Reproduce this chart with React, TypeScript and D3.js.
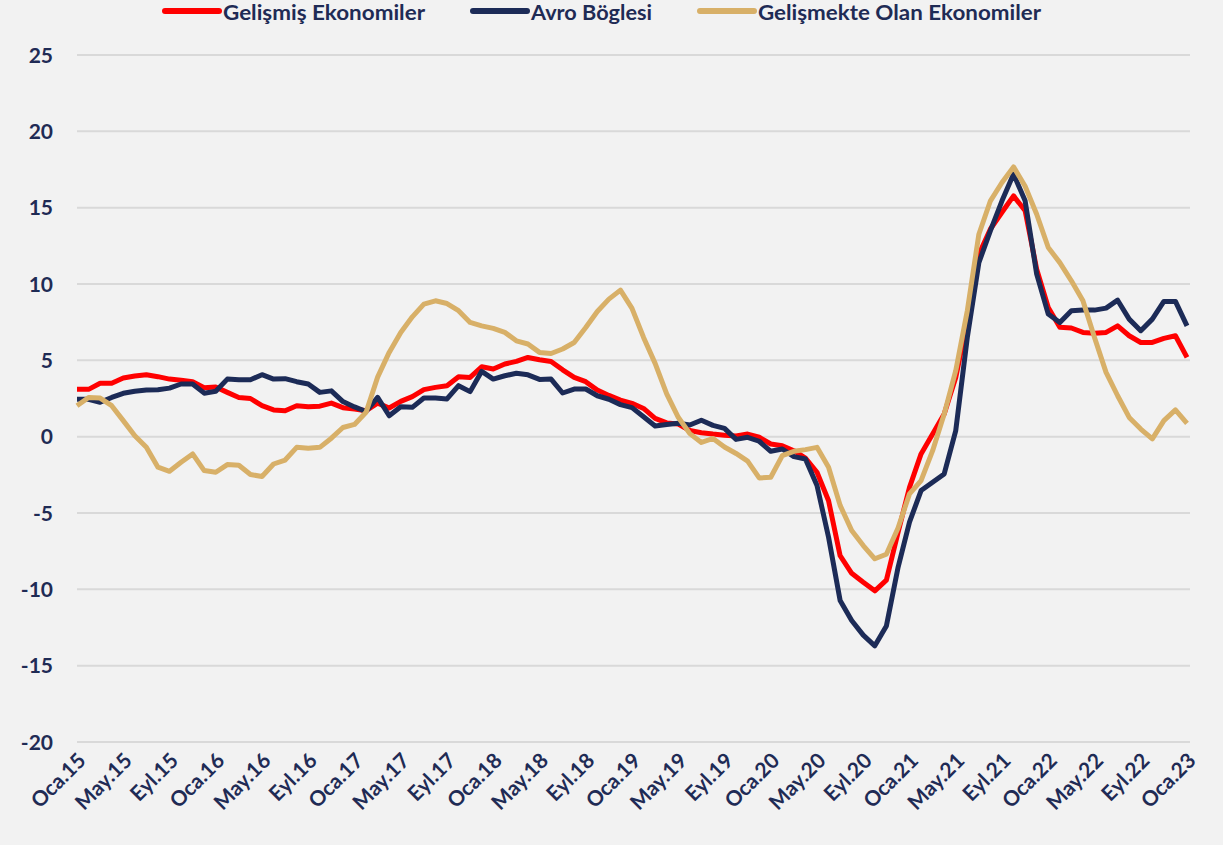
import React from "react";
import * as d3 from "d3";

// aylık seriler, Oca.15 - Oca.23 (97 ay)
const gelismis = [
  3.1, 3.1, 3.5, 3.5, 3.84, 3.97, 4.06, 3.93, 3.77, 3.7, 3.6, 3.2, 3.25, 2.9, 2.57, 2.5,
  2.03, 1.75, 1.7, 2.03, 1.96, 2.0, 2.2, 1.9, 1.81, 1.7, 2.2, 1.88, 2.31, 2.62, 3.08, 3.23,
  3.34, 3.93, 3.88, 4.58, 4.43, 4.76, 4.93, 5.19, 5.04, 4.93, 4.38, 3.88, 3.6, 3.05, 2.7, 2.4,
  2.18, 1.85, 1.2, 0.9, 0.83, 0.4, 0.26, 0.17, 0.1, 0.05, 0.17, -0.04, -0.48, -0.59, -0.92, -1.4,
  -2.33, -4.2, -7.8, -8.95, -9.54, -10.1, -9.4, -6.3, -3.32, -1.13, 0.17, 1.48, 3.88, 7.59, 11.95, 13.6,
  14.7, 15.77, 14.8, 10.97, 8.46, 7.16, 7.12, 6.83, 6.77, 6.83, 7.26, 6.61, 6.17, 6.17, 6.44, 6.61,
  5.19,
];

const avroBolgesi = [
  2.45, 2.45, 2.25, 2.57, 2.84, 2.97, 3.05, 3.07, 3.18, 3.45, 3.45, 2.85, 2.97, 3.77, 3.73, 3.73,
  4.06, 3.77, 3.8, 3.6, 3.45, 2.9, 3.0, 2.3, 1.95, 1.65, 2.57, 1.37, 1.96, 1.92, 2.53, 2.53,
  2.47, 3.34, 2.95, 4.28, 3.77, 3.99, 4.15, 4.05, 3.75, 3.77, 2.86, 3.12, 3.12, 2.68, 2.45, 2.1,
  1.9, 1.3, 0.7, 0.8, 0.88, 0.76, 1.08, 0.74, 0.54, -0.18, -0.04, -0.3, -0.96, -0.81, -1.31, -1.46,
  -3.2, -6.59, -10.73, -12.04, -13.0, -13.7, -12.4, -8.6, -5.6, -3.53, -2.99, -2.44, 0.4, 6.5, 11.4, 13.5,
  15.45, 17.2, 15.45, 10.65, 8.03, 7.48, 8.25, 8.29, 8.29, 8.42, 8.94, 7.7, 6.94, 7.7, 8.86, 8.86,
  7.26,
];

const gelismekte = [
  2.03, 2.57, 2.53, 2.03, 1.05, 0.06, -0.7, -2.0, -2.27, -1.68, -1.13, -2.22, -2.33, -1.83, -1.87, -2.48,
  -2.61, -1.79, -1.53, -0.7, -0.76, -0.7, -0.1, 0.6, 0.8, 1.6, 3.9, 5.52, 6.83, 7.85, 8.68, 8.9,
  8.72, 8.25, 7.48, 7.26, 7.09, 6.83, 6.28, 6.07, 5.52, 5.45, 5.74, 6.17, 7.15, 8.2, 9.01, 9.6,
  8.4, 6.5, 4.8, 2.8, 1.27, 0.2, -0.38, -0.12, -0.68, -1.1, -1.6, -2.7, -2.66, -1.24, -0.96, -0.85,
  -0.7, -2.0, -4.5, -6.15, -7.13, -8.0, -7.7, -6.0, -3.75, -2.88, -0.92, 1.48, 4.32, 8.25, 13.26, 15.45,
  16.65, 17.67, 16.4, 14.57, 12.39, 11.4, 10.21, 8.9, 6.5, 4.21, 2.68, 1.26, 0.5, -0.15, 1.05, 1.75,
  0.87,
];

const tickLabels = [
  "Oca.15", "May.15", "Eyl.15", "Oca.16", "May.16", "Eyl.16", "Oca.17", "May.17", "Eyl.17",
  "Oca.18", "May.18", "Eyl.18", "Oca.19", "May.19", "Eyl.19", "Oca.20", "May.20", "Eyl.20",
  "Oca.21", "May.21", "Eyl.21", "Oca.22", "May.22", "Eyl.22", "Oca.23",
];

const yTicks = [25, 20, 15, 10, 5, 0, -5, -10, -15, -20];

const seriesNames = ["Gelişmiş Ekonomiler", "Avro Böglesi", "Gelişmekte Olan Ekonomiler"];

const textColor = "#1f2b55";
const font = "Lato, 'Open Sans', sans-serif";

export default function App() {
  const width = 1223;
  const height = 845;

  const x = d3.scaleLinear().domain([0, gelismis.length - 1]).range([77, 1187]);
  const y = d3.scaleLinear().domain([-20, 25]).range([742, 55]);

  const line = d3
    .line<number>()
    .x((_, i) => x(i))
    .y((d) => y(d));

  const series = [
    { name: seriesNames[0], values: gelismis, color: "#ff0000" },
    { name: seriesNames[1], values: avroBolgesi, color: "#1c2b57" },
    { name: seriesNames[2], values: gelismekte, color: "#d8b068" },
  ];

  // legend: line start and text width of each entry
  const legendX = [165, 473, 700];
  const legendW = [202, 121, 283];

  return (
    <div style={{ position: "absolute", left: 0, top: 0 }}>
      <svg width={width} height={height} style={{ display: "block", background: "#f2f2f2" }}>
        {yTicks.map((t) => (
          <g key={t}>
            <line x1={77} x2={1190} y1={y(t)} y2={y(t)} stroke="#d9d9d9" strokeWidth={2} />
            <text
              x={53}
              y={y(t)}
              dy="0.36em"
              textAnchor="end"
              fill={textColor}
              style={{ fontFamily: font, fontWeight: 700, fontSize: 21 }}
            >
              {t}
            </text>
          </g>
        ))}

        {tickLabels.map((label, k) => (
          <text
            key={label}
            transform={`translate(${x(k * 4) + 10},${762}) rotate(-45)`}
            textAnchor="end"
            fill={textColor}
            style={{ fontFamily: font, fontWeight: 700, fontSize: 21 }}
          >
            {label}
          </text>
        ))}

        {series.map((s) => (
          <path
            key={s.name}
            d={line(s.values) ?? ""}
            fill="none"
            stroke={s.color}
            strokeWidth={5}
            strokeLinejoin="round"
          />
        ))}

        {series.map((s, i) => (
          <g key={"lg" + s.name}>
            <line
              x1={legendX[i]}
              x2={legendX[i] + 54}
              y1={11}
              y2={11}
              stroke={s.color}
              strokeWidth={6}
              strokeLinecap="round"
            />
            <text
              x={legendX[i] + 58}
              y={20}
              textLength={legendW[i]}
              lengthAdjust="spacingAndGlyphs"
              fill={textColor}
              style={{ fontFamily: font, fontWeight: 700, fontSize: 20 }}
            >
              {s.name}
            </text>
          </g>
        ))}
      </svg>
    </div>
  );
}
